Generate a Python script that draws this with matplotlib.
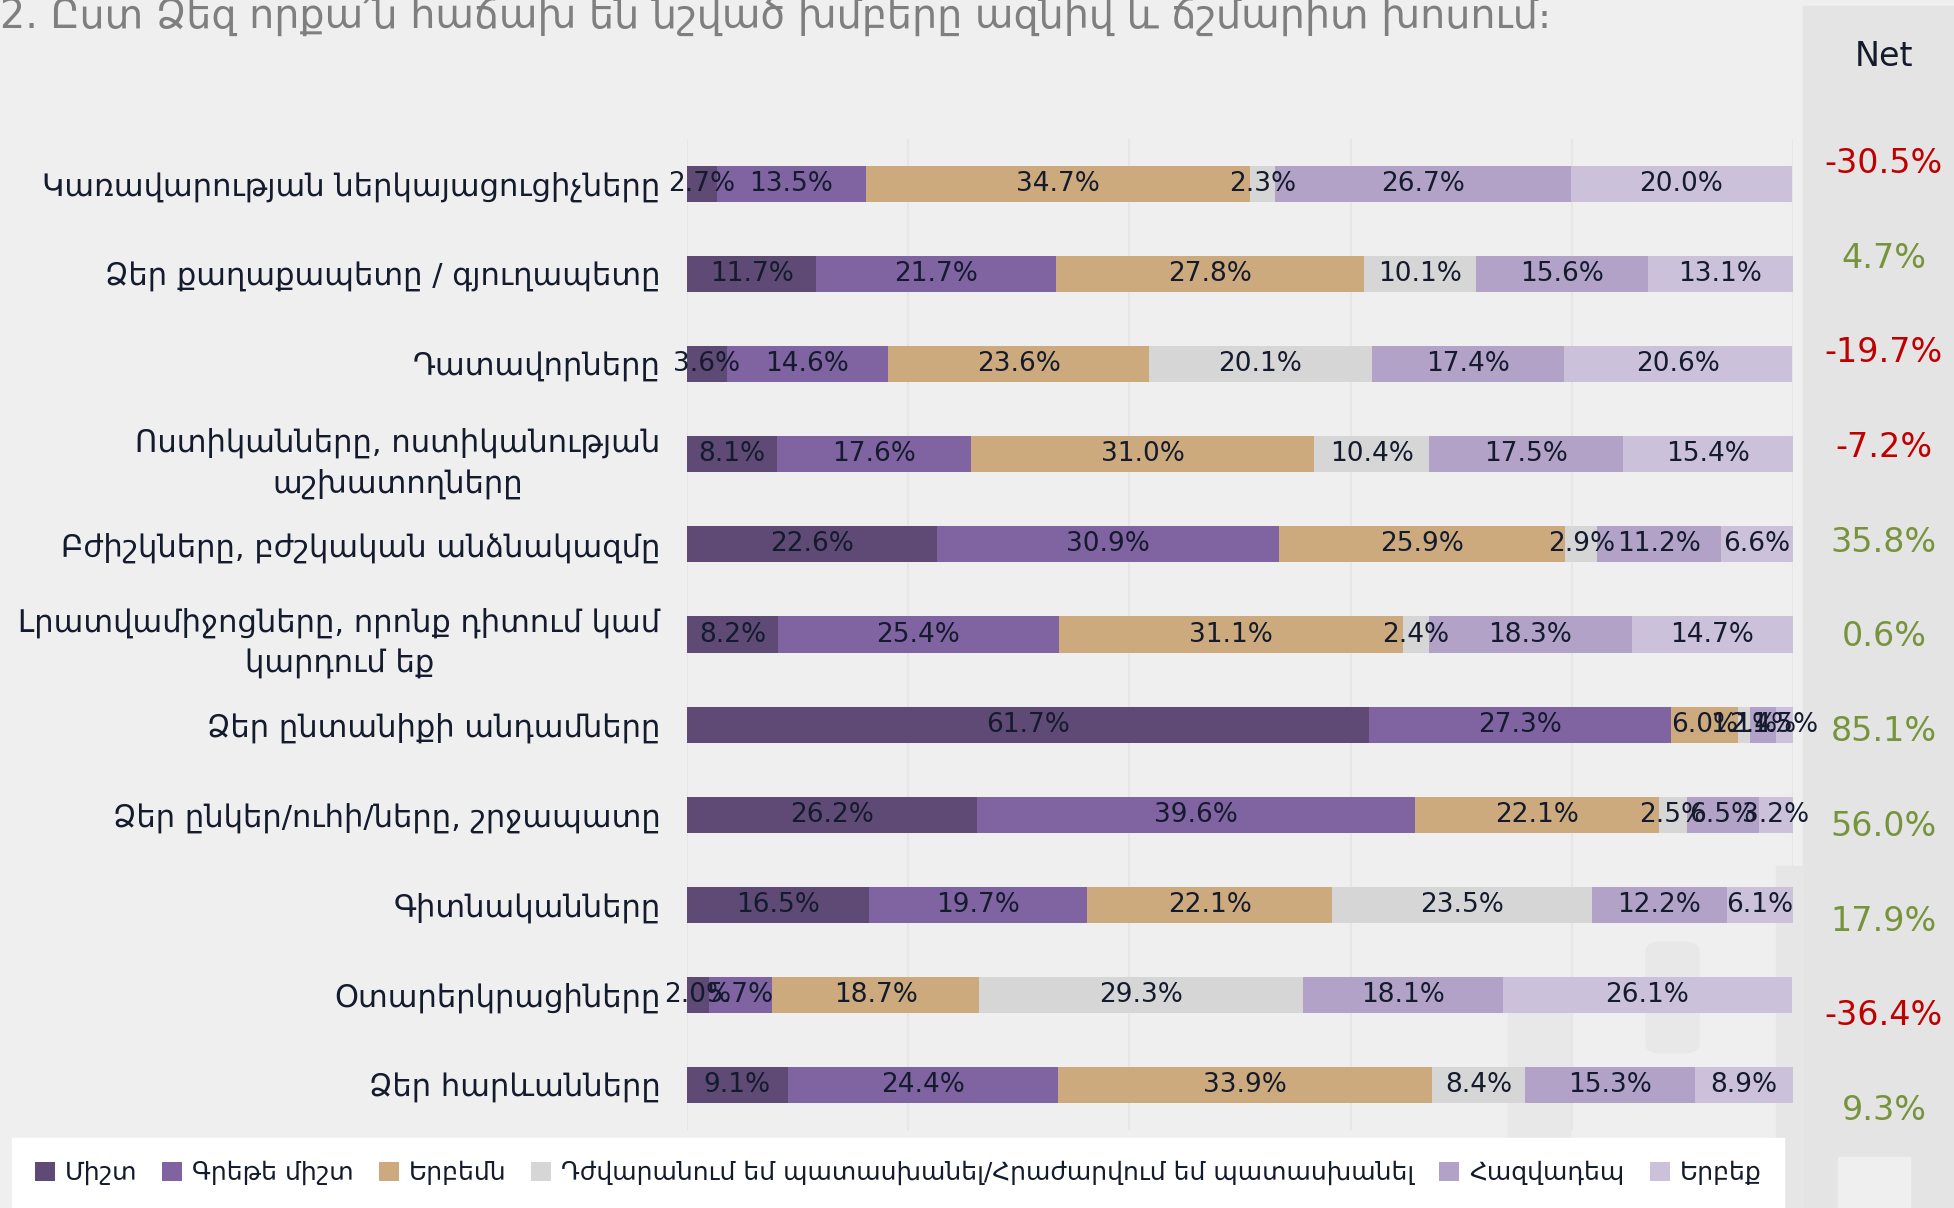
import matplotlib
matplotlib.use("Agg")
import matplotlib.pyplot as plt
from matplotlib.patches import Rectangle, FancyBboxPatch
import numpy as np

W, H = 1954, 1208

title = "2. Ըստ Ձեզ որքա՛ն հաճախ են նշված խմբերը ազնիվ և ճշմարիտ խոսում։"

categories = [
    "Կառավարության ներկայացուցիչները",
    "Ձեր քաղաքապետը / գյուղապետը",
    "Դատավորները",
    "Ոստիկանները, ոստիկանության\nաշխատողները",
    "Բժիշկները, բժշկական անձնակազմը",
    "Լրատվամիջոցները, որոնք դիտում կամ\nկարդում եք",
    "Ձեր ընտանիքի անդամները",
    "Ձեր ընկեր/ուհի/ները, շրջապատը",
    "Գիտնականները",
    "Օտարերկրացիները",
    "Ձեր հարևանները",
]

always        = [2.7, 11.7, 3.6, 8.1, 22.6, 8.2, 61.7, 26.2, 16.5, 2.0, 9.1]
almost_always = [13.5, 21.7, 14.6, 17.6, 30.9, 25.4, 27.3, 39.6, 19.7, 5.7, 24.4]
sometimes     = [34.7, 27.8, 23.6, 31.0, 25.9, 31.1, 6.0, 22.1, 22.1, 18.7, 33.9]
hard_to_say   = [2.3, 10.1, 20.1, 10.4, 2.9, 2.4, 1.1, 2.5, 23.5, 29.3, 8.4]
rarely        = [26.7, 15.6, 17.4, 17.5, 11.2, 18.3, 2.4, 6.5, 12.2, 18.1, 15.3]
never         = [20.0, 13.1, 20.6, 15.4, 6.6, 14.7, 1.5, 3.2, 6.1, 26.1, 8.9]

net = [-30.5, 4.7, -19.7, -7.2, 35.8, 0.6, 85.1, 56.0, 17.9, -36.4, 9.3]

series_names = [
    "Միշտ",
    "Գրեթե միշտ",
    "Երբեմն",
    "Դժվարանում եմ պատասխանել/Հրաժարվում եմ պատասխանել",
    "Հազվադեպ",
    "Երբեք",
]
series = [always, almost_always, sometimes, hard_to_say, rarely, never]
colors = ["#5E4A75", "#8064A2", "#CDAA7D", "#D6D6D6", "#B2A2C7", "#CCC1DA"]

bg = "#EFEFEF"
txt = "#141B2D"
red, green = "#C00000", "#77933C"

plt.rcParams["font.family"] = ["DejaVu Sans"]


def fx(x):
    return x / W


def fy(y):
    return 1 - y / H


def fig_rect(x0, y0, x1, y1, color, rounded=False):
    # rectangle given in picture pixels (top-left origin)
    if rounded:
        p = FancyBboxPatch((fx(x0), fy(y1)), fx(x1 - x0), fy(y0) - fy(y1),
                           boxstyle="round,pad=0,rounding_size=0.008",
                           transform=fig.transFigure, color=color, zorder=0)
    else:
        p = Rectangle((fx(x0), fy(y1)), fx(x1 - x0), fy(y0) - fy(y1),
                      transform=fig.transFigure, color=color, zorder=0)
    fig.patches.append(p)


fig = plt.figure(figsize=(W / 100, H / 100), dpi=100, facecolor=bg)

# grey "Net" panel and a few screenshot artefacts in the background
fig_rect(1803, 6, W, H, "#E4E4E4")
fig_rect(1838, 1157, 1910, H, bg)
fig_rect(1776, 866, 1803, H, "#E6E6E6")
fig_rect(1508, 1009, 1570, H, "#E8E8E8")
fig_rect(1646, 942, 1699, 1053, "#E8E8E8", rounded=True)

ax = fig.add_axes([fx(687), fy(1130), fx(1106), fy(139) - fy(1130)], zorder=2)
ax.set_facecolor("none")

y = np.arange(len(categories))
left = np.zeros(len(categories))
handles = []
for vals, name, col in zip(series, series_names, colors):
    vals = np.array(vals)
    bars = ax.barh(y, vals, left=left, height=0.4, color=col, label=name, zorder=2)
    ax.bar_label(bars, labels=[f"{v:.1f}%" for v in vals], label_type="center",
                 fontsize=19, color=txt, zorder=3)
    handles.append(bars)
    left += vals

ax.set_xlim(0, 100)
ax.set_ylim(len(categories) - 0.5, -0.5)
ax.set_xticks([0, 20, 40, 60, 80, 100])
ax.xaxis.grid(True, color="#E6E6E6", lw=1.5, zorder=0)
ax.tick_params(axis="x", length=0, labelbottom=False)
ax.set_yticks(y, categories, fontsize=22, color=txt)
ax.tick_params(axis="y", length=0, pad=19)
for lbl in ax.get_yticklabels():
    lbl.set_multialignment("center")
    lbl.set_linespacing(1.45)
for s in ax.spines.values():
    s.set_visible(False)

# Net column
nax = fig.add_axes([fx(1803), fy(1158), fx(151), fy(116) - fy(1158)], zorder=2)
nax.set_xlim(0, 1)
nax.set_ylim(len(net) - 0.5, -0.5)
nax.axis("off")
for i, v in enumerate(net):
    nax.text(0.536, i, f"{v:.1f}%", color=red if v < 0 else green,
             ha="center", va="center", fontsize=24)

fig.text(fx(1884), fy(57), "Net", ha="center", va="center", fontsize=24, color=txt)
fig.text(0, fy(28), title, ha="left", va="baseline", fontsize=28.5, color="#7F7F7F")

leg = fig.legend(handles, series_names, loc="center left",
                 bbox_to_anchor=(fx(12), fy(1173)), ncol=6, fontsize=18,
                 frameon=True, fancybox=False, facecolor="white", edgecolor="white",
                 framealpha=1, handlelength=0.8, handleheight=0.8, handletextpad=0.4,
                 columnspacing=1.0, borderaxespad=0, borderpad=0.9)
leg.set_zorder(5)
for t in leg.get_texts():
    t.set_color(txt)

fig.savefig("out.png", dpi=100, facecolor=bg)
